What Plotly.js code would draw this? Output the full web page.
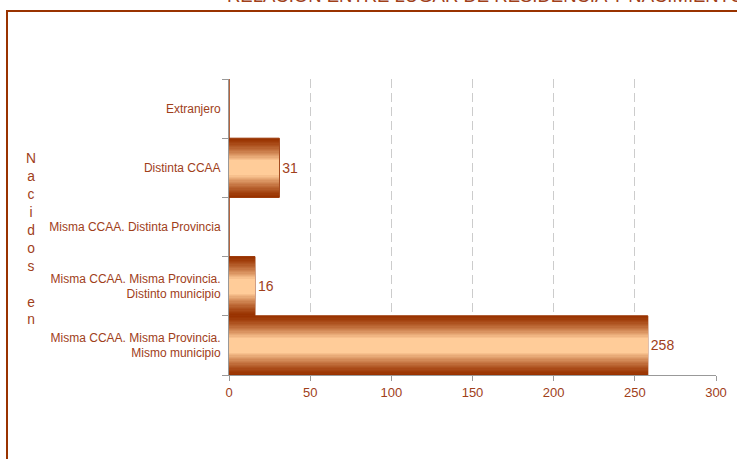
<!DOCTYPE html>
<html>
<head>
<meta charset="utf-8">
<script src="https://cdn.plot.ly/plotly-3.0.1.min.js"></script>
<style>html,body{margin:0;padding:0;background:#fff;}#chart{width:737px;height:459px;}</style>
</head>
<body>
<div id="chart"></div>
<script>
// ---- data ----
const categories = [
  "Misma CCAA. Misma Provincia.<br>Mismo municipio",
  "Misma CCAA. Misma Provincia.<br>Distinto municipio",
  "Misma CCAA. Distinta Provincia",
  "Distinta CCAA",
  "Extranjero"
];
const values = [258, 16, 0, 31, 0];
const xTicks = [0, 50, 100, 150, 200, 250, 300];
const chartTitle = "RELACIÓN ENTRE LUGAR DE RESIDENCIA Y NACIMIENTO";
const axisTitle = "Nacidos en";

// ---- styling ----
const brown = "#993300";
const textBrown = "#a0401a";
const dark = [153, 51, 0];
const light = [255, 204, 153];
const font = "Liberation Sans, Arial, sans-serif";

// gradient by overlaying bars of decreasing thickness
const N = 18;
const traces = [];
for (let k = 0; k < N; k++) {
  const t = k / (N - 1);
  const w = 1 - t * 0.75;
  const f = Math.pow(t, 1.3);
  const c = dark.map((d, i) => Math.round(d + (light[i] - d) * f));
  const isOuter = k === 0;
  traces.push({
    type: "bar",
    orientation: "h",
    y: categories,
    x: values,
    width: w,
    marker: {
      color: "rgb(" + c.join(",") + ")",
      line: isOuter ? {color: brown, width: 1} : {width: 0}
    },
    text: isOuter ? values.map(v => v ? String(v) : "") : undefined,
    textposition: isOuter ? "outside" : "none",
    textfont: {family: font, size: 14, color: textBrown},
    cliponaxis: false,
    hoverinfo: "skip",
    showlegend: false
  });
}

const L = 229, R = 21, T = 79, B = 84;
const pw = 737 - L - R, ph = 459 - T - B;
const px = x => (x - L) / pw;
const py = y => (459 - B - y) / ph;

const layout = {
  width: 737, height: 459,
  margin: {l: L, r: R, t: T, b: B, pad: 0},
  paper_bgcolor: "#fff", plot_bgcolor: "#fff",
  barmode: "overlay", bargap: 0,
  font: {family: font, color: textBrown},
  xaxis: {
    range: [0, 300], tickvals: xTicks, ticktext: xTicks.map(String),
    showgrid: true, gridcolor: "#cccccc", griddash: "9px,5px", gridwidth: 1,
    zeroline: false, showline: true, linecolor: "#999", linewidth: 1,
    ticks: "outside", ticklen: 5, tickcolor: "#999",
    tickfont: {family: font, size: 13, color: textBrown}, fixedrange: true
  },
  yaxis: {
    categoryorder: "array", categoryarray: categories,
    showline: true, linecolor: "#999", linewidth: 1,
    ticks: "outside", ticklen: 6, tickcolor: "#999", tickson: "boundaries",
    ticklabelstandoff: 5,
    showgrid: false, zeroline: false,
    tickfont: {family: font, size: 12, color: textBrown}, fixedrange: true
  },
  shapes: [{
    type: "rect", xref: "paper", yref: "paper",
    x0: px(7), x1: px(800), y0: py(11), y1: py(520),
    line: {color: brown, width: 2}, fillcolor: "rgba(0,0,0,0)", layer: "below"
  }],
  annotations: [
    {
      xref: "paper", yref: "paper", x: px(485), y: py(8),
      xanchor: "center", yanchor: "bottom", showarrow: false,
      text: chartTitle, font: {family: font, size: 18.5, color: textBrown}
    },
    {
      xref: "paper", yref: "paper", x: px(31), y: py(239),
      xanchor: "center", yanchor: "middle", showarrow: false, align: "center",
      text: axisTitle.split("").map(ch => ch === " " ? "&nbsp;" : ch).join("<br>"),
      font: {family: font, size: 13.8, color: textBrown}
    }
  ],
  hovermode: false
};

Plotly.newPlot("chart", traces, layout, {displayModeBar: false, staticPlot: true});
</script>
</body>
</html>
